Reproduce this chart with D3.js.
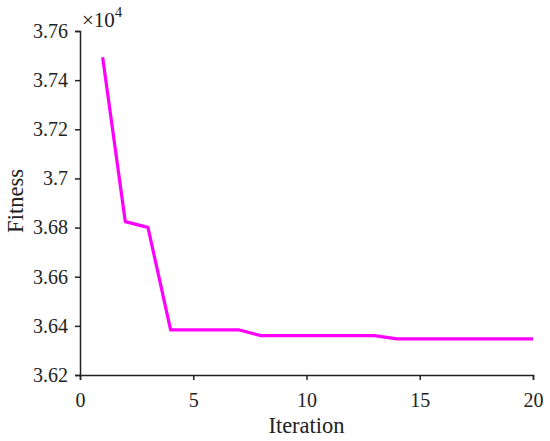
<!DOCTYPE html>
<html>
<head>
<meta charset="utf-8">
<script src="https://cdn.jsdelivr.net/npm/d3@7"></script>
<style>
  body { margin: 0; background: #fff; }
  svg { display: block; }
  text { font-family: "Liberation Serif", "Times New Roman", serif; fill: #222; }
</style>
</head>
<body>
<svg width="550" height="441"></svg>
<script>
// fitness per iteration (values in units of 1e4)
var iterations = d3.range(1, 21);
var fitness = [3.7493, 3.6824, 3.6801, 3.6384, 3.6384, 3.6384, 3.6384,
  3.6360, 3.6360, 3.6360, 3.6360, 3.6360, 3.6360,
  3.6347, 3.6347, 3.6347, 3.6347, 3.6347, 3.6347, 3.6347];
var xTicks = [0, 5, 10, 15, 20];
var yTicks = [3.62, 3.64, 3.66, 3.68, 3.7, 3.72, 3.74, 3.76];

var margin = {top: 31, right: 17, bottom: 66, left: 80};
var width = 550 - margin.left - margin.right,
    height = 441 - margin.top - margin.bottom;

var svg = d3.select('svg');
var g = svg.append('g').attr('transform', 'translate(' + margin.left + ',' + margin.top + ')');

var x = d3.scaleLinear().domain([0, 20]).range([0, width]);
var y = d3.scaleLinear().domain([3.62, 3.76]).range([height, 0]);

var xAxis = g.append('g')
  .attr('transform', 'translate(0,' + height + ')')
  .call(d3.axisBottom(x).tickValues(xTicks).tickSize(5).tickPadding(13).tickFormat(d3.format('d')));
var yAxis = g.append('g')
  .call(d3.axisLeft(y).tickValues(yTicks).tickSize(5).tickPadding(7).tickFormat(d => String(+d.toFixed(2))));

[xAxis, yAxis].forEach(function(a) {
  a.attr('font-family', '"Liberation Serif", serif').attr('font-size', 20);
  a.select('.domain').attr('stroke', '#222').attr('stroke-width', 1.5);
  a.selectAll('.tick line').attr('stroke', '#222').attr('stroke-width', 1.5);
  a.selectAll('text').attr('fill', '#222');
});

var line = d3.line()
  .x((d, i) => x(iterations[i]))
  .y(d => y(d))
  .curve(d3.curveLinear);

g.append('path')
  .datum(fitness)
  .attr('d', line)
  .style('fill', 'none')
  .style('stroke', '#ff00ff')
  .attr('stroke-width', 3.2)
  .attr('stroke-linejoin', 'round');

// exponent label
var ex = svg.append('text').attr('x', 82).attr('y', 27).style('font-size', '21px');
ex.append('tspan').text('\u00d710');
ex.append('tspan').attr('dy', -10).style('font-size', '15px').text('4');

svg.append('text')
  .attr('x', margin.left + width / 2)
  .attr('y', 433)
  .attr('text-anchor', 'middle')
  .style('font-size', '22.5px')
  .text('Iteration');

svg.append('text')
  .attr('transform', 'translate(23,201) rotate(-90)')
  .attr('text-anchor', 'middle')
  .style('font-size', '22.5px')
  .text('Fitness');
</script>
</body>
</html>
